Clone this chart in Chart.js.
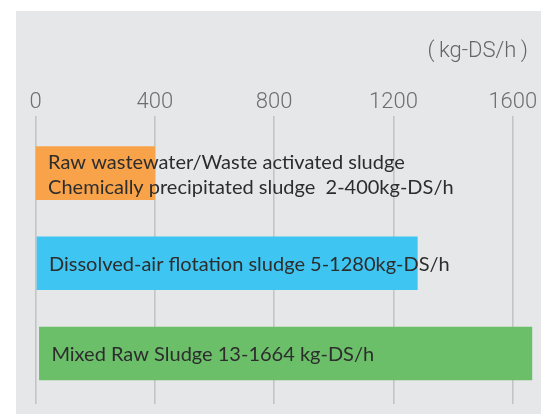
<!DOCTYPE html>
<html>
<head>
<meta charset="utf-8">
<script src="https://cdn.jsdelivr.net/npm/chart.js@4.4.0/dist/chart.umd.min.js"></script>
<style>
  html, body { margin: 0; padding: 0; background: #fff; }
  #panel { position: absolute; left: 16px; top: 11px; width: 525px; height: 403px; background: #e6e7e9; }
  #chart { display: block; }
</style>
</head>
<body>
<div id="panel"><canvas id="chart" width="525" height="403"></canvas></div>
<script>
const categories = [
  'Raw wastewater/Waste activated sludge\nChemically precipitated sludge  2-400kg-DS/h',
  'Dissolved-air flotation sludge 5-1280kg-DS/h',
  'Mixed Raw Sludge 13-1664 kg-DS/h'
];
const rangeStart = [2, 5, 13];
const rangeEnd = [400, 1280, 1664];
const barColors = ['#f8a34a', '#3ec5f1', '#6bbf69'];
const tickValues = [0, 400, 800, 1200, 1600];
const unitLabel = '(\u2009kg-DS/h\u2009)';

// category name drawn inside each bar, starting near its left end
const barLabels = {
  id: 'barLabels',
  afterDatasetsDraw(chart) {
    const ctx = chart.ctx;
    const meta = chart.getDatasetMeta(0);
    ctx.save();
    ctx.font = '20px Lato, "Open Sans", sans-serif';
    ctx.fillStyle = '#2d2d2d';
    ctx.textBaseline = 'middle';
    ctx.textAlign = 'left';
    meta.data.forEach((bar, i) => {
      const lines = categories[i].split('\n');
      const left = Math.min(bar.x, bar.base) + 12;
      const lh = 25;
      const y0 = bar.y + 1.5 - (lines.length - 1) * lh / 2;
      lines.forEach((line, j) => ctx.fillText(line, left, y0 + j * lh));
    });
    ctx.restore();
  }
};

new Chart(document.getElementById('chart'), {
  type: 'bar',
  data: {
    datasets: [{
      data: categories.map((c, i) => ({ x: [rangeStart[i], rangeEnd[i]], y: i })),
      backgroundColor: barColors,
      borderWidth: 0,
      barThickness: 53,
      clip: false
    }]
  },
  options: {
    indexAxis: 'y',
    responsive: false,
    animation: false,
    layout: { padding: { left: 19.5, right: 13, top: 0, bottom: 10 } },
    plugins: {
      legend: { display: false },
      tooltip: { enabled: false },
      title: {
        display: true,
        text: unitLabel,
        align: 'end',
        color: '#666',
        font: { family: 'Roboto, "Open Sans", sans-serif', size: 22, weight: '300' },
        padding: { top: 27, bottom: 25 }
      }
    },
    scales: {
      x: {
        type: 'linear',
        position: 'top',
        min: 0,
        max: 1651,
        afterBuildTicks: axis => { axis.ticks = tickValues.map(v => ({ value: v })); },
        ticks: {
          color: '#6e6e6e',
          padding: 0,
          callback: v => String(v),
          font: { family: 'Roboto, "Open Sans", sans-serif', size: 22, weight: '300' }
        },
        grid: { color: '#c3c4c6', lineWidth: 1.6, drawTicks: false },
        border: { display: false }
      },
      y: {
        type: 'linear',
        display: false,
        offset: false,
        reverse: true,
        min: -0.635,
        max: 2.56
      }
    }
  },
  plugins: [barLabels]
});
</script>
</body>
</html>
